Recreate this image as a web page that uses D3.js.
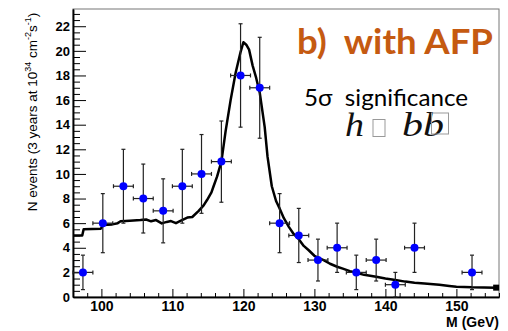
<!DOCTYPE html>
<html>
<head>
<meta charset="utf-8">
<script src="https://cdn.jsdelivr.net/npm/d3@7"></script>
<style>
  body { margin: 0; background: #fff; }
  svg { display: block; }
  .axis text { font: bold 13px "Liberation Sans", Arial, sans-serif; fill: #000; }
  .axis path, .axis line { stroke: #000; }
</style>
</head>
<body>
<div id="chart"></div>
<script>
// measured data points (bin centre in GeV, events, stat. error)
const massBins = [97.4, 100.2, 103.1, 105.9, 108.7, 111.4, 114.1, 116.9, 119.6, 122.3,
                  125.1, 127.8, 130.5, 133.2, 135.9, 138.7, 141.4, 144.1, 152.2];
const nEvents  = [2, 6, 9, 8, 7, 9, 10, 11, 18, 17, 6, 5, 3, 4, 2, 3, 1, 4, 2];
const nErrors  = [1.4, 2.4, 3.0, 2.8, 2.6, 3.0, 3.2, 3.3, 4.2, 4.1, 2.4, 2.2, 1.7, 2.0, 1.4, 1.7, 1.0, 2.0, 1.4];
const binHalf  = 1.4;

// expected signal + background curve
const curveM = [96.0, 97.3, 97.5, 99.9, 100.3, 101.5, 102.3, 102.7, 104.0, 105.5, 106.3, 107.0,
                107.7, 108.5, 109.2, 109.8, 110.5, 111.2, 112.1, 112.8, 113.7, 114.4, 114.9, 115.5,
                115.8, 116.3, 116.9, 117.5, 118.2, 118.9, 119.6, 120.0, 120.4, 120.8, 121.3, 121.8,
                122.3, 123.0, 123.4, 124.0, 124.6, 125.1, 125.7, 126.4, 127.1, 127.8, 128.5, 129.2,
                130.0, 130.5, 131.3, 132.2, 133.2, 134.0, 135.0, 135.9, 137.0, 138.7, 140.0, 141.4,
                142.8, 144.1, 145.5, 147.6, 149.0, 150.0, 152.2, 155.6];
const curveN = [5.0, 5.0, 5.5, 5.55, 5.85, 5.9, 6.0, 6.15, 6.2, 6.25, 6.3, 6.15,
                6.25, 5.98, 6.1, 6.17, 6.0, 6.2, 6.45, 6.5, 7.0, 7.45, 7.9, 8.5,
                9.0, 9.8, 11.0, 13.5, 16.0, 18.2, 19.9, 20.7, 20.5, 20.1, 18.8, 17.8,
                16.6, 13.8, 11.4, 9.0, 7.8, 7.2, 6.4, 5.7, 5.1, 4.7, 4.15, 3.8,
                3.35, 3.2, 3.0, 2.7, 2.46, 2.3, 2.1, 1.97, 1.8, 1.65, 1.5, 1.38,
                1.25, 1.16, 1.1, 1.0, 0.9, 0.84, 0.79, 0.76];

const xMajor = [100, 110, 120, 130, 140, 150];
const yMajor = [0, 2, 4, 6, 8, 10, 12, 14, 16, 18, 20, 22];

const W = 508, H = 331;
const margin = {top: 9, right: 9, bottom: 34, left: 73};
const width = W - margin.left - margin.right;
const height = H - margin.top - margin.bottom;

const x = d3.scaleLinear().domain([96, 156]).range([0, width]);
const y = d3.scaleLinear().domain([0, 23.4]).range([height, 0]);

const svg = d3.select('#chart').append('svg')
  .attr('width', W).attr('height', H);

const chart = svg.append('g')
  .attr('transform', 'translate(' + margin.left + ',' + margin.top + ')');

// frame
chart.append('rect')
  .attr('x', 0).attr('y', 0).attr('width', width).attr('height', height)
  .attr('fill', 'none').attr('stroke', '#777').attr('stroke-width', 1);

// minor ticks
const xMinor = d3.range(96, 157, 2).filter(v => !xMajor.includes(v));
const yMinor = d3.range(0, 23.01, 0.5).filter(v => !yMajor.includes(v));

chart.append('g').attr('class', 'axis')
  .attr('transform', 'translate(0,' + height + ')')
  .call(d3.axisBottom(x).tickValues(xMinor).tickSize(-4).tickSizeOuter(0).tickFormat(''));
chart.append('g').attr('class', 'axis')
  .call(d3.axisLeft(y).tickValues(yMinor).tickSize(-7).tickSizeOuter(0).tickFormat(''));

// major axes
chart.append('g').attr('class', 'axis x-axis')
  .attr('transform', 'translate(0,' + height + ')')
  .call(d3.axisBottom(x).tickValues(xMajor).tickSize(-8).tickSizeOuter(0).tickPadding(4))
  .call(g => g.selectAll('text').style('font-size', '14px'));
chart.append('g').attr('class', 'axis y-axis')
  .call(d3.axisLeft(y).tickValues(yMajor).tickSize(-13).tickSizeOuter(0).tickPadding(3));

chart.selectAll('.axis path.domain').attr('stroke-width', 1.5);

// curve
const line = d3.line().x((d, i) => x(curveM[i])).y(d => y(d));
chart.append('path')
  .datum(curveN)
  .attr('d', line)
  .attr('fill', 'none')
  .attr('stroke', '#000')
  .attr('stroke-width', 2.5)
  .attr('stroke-linejoin', 'round');
chart.append('rect')
  .attr('x', x(curveM[curveM.length - 1]) - 3)
  .attr('y', y(curveN[curveN.length - 1]) - 3)
  .attr('width', 6).attr('height', 6)
  .attr('fill', '#000');

// data points with error bars
const pts = chart.append('g').selectAll('g')
  .data(nEvents)
  .join('g');

const barColor = '#222';
pts.append('line')
  .attr('x1', (d, i) => x(massBins[i])).attr('x2', (d, i) => x(massBins[i]))
  .attr('y1', (d, i) => y(d - nErrors[i])).attr('y2', (d, i) => y(d + nErrors[i]))
  .attr('stroke', barColor).attr('stroke-width', 1.2);
pts.append('line')
  .attr('x1', (d, i) => x(massBins[i] - binHalf)).attr('x2', (d, i) => x(massBins[i] + binHalf))
  .attr('y1', d => y(d)).attr('y2', d => y(d))
  .attr('stroke', barColor).attr('stroke-width', 1.2);
[-1, 1].forEach(s => {
  pts.append('line')
    .attr('x1', (d, i) => x(massBins[i]) - 2).attr('x2', (d, i) => x(massBins[i]) + 2)
    .attr('y1', (d, i) => y(d + s * nErrors[i])).attr('y2', (d, i) => y(d + s * nErrors[i]))
    .attr('stroke', barColor).attr('stroke-width', 1.2);
  pts.append('line')
    .attr('x1', (d, i) => x(massBins[i] + s * binHalf)).attr('x2', (d, i) => x(massBins[i] + s * binHalf))
    .attr('y1', d => y(d) - 2).attr('y2', d => y(d) + 2)
    .attr('stroke', barColor).attr('stroke-width', 1.2);
});
pts.append('circle')
  .attr('cx', (d, i) => x(massBins[i]))
  .attr('cy', d => y(d))
  .attr('r', 4)
  .attr('fill', '#0000ff');

// axis titles
svg.append('text')
  .attr('x', 499).attr('y', 327)
  .attr('text-anchor', 'end')
  .style('font', 'bold 14px "Liberation Sans", Arial, sans-serif')
  .text('M (GeV)');

const yt = svg.append('text')
  .attr('transform', 'translate(37,112) rotate(-90)')
  .attr('text-anchor', 'middle')
  .style('font', '13.5px "Liberation Sans", Arial, sans-serif');
yt.append('tspan').text('N events (3 years at 10');
yt.append('tspan').attr('dy', -6).style('font-size', '9px').text('34');
yt.append('tspan').attr('dy', 6).text(' cm');
yt.append('tspan').attr('dy', -6).style('font-size', '9px').text('-2');
yt.append('tspan').attr('dy', 6).text('s');
yt.append('tspan').attr('dy', -6).style('font-size', '9px').text('-1');
yt.append('tspan').attr('dy', 6).text(')');

// annotations
svg.append('text')
  .attr('x', 297).attr('y', 54)
  .attr('textLength', 196).attr('lengthAdjust', 'spacingAndGlyphs')
  .style('font', 'bold 35px Lato, "Open Sans", sans-serif')
  .attr('fill', '#c55a11')
  .attr('xml:space', 'preserve')
  .text('b)  with AFP');

svg.append('text')
  .attr('x', 304).attr('y', 106)
  .attr('textLength', 164).attr('lengthAdjust', 'spacingAndGlyphs')
  .style('font', '24px Lato, "Open Sans", sans-serif')
  .attr('fill', '#000')
  .attr('xml:space', 'preserve')
  .text('5σ  significance');

const serif = 'italic 33px "Liberation Serif", "DejaVu Serif", serif';
svg.append('text').attr('x', 345).attr('y', 136)
  .attr('textLength', 19).attr('lengthAdjust', 'spacingAndGlyphs')
  .style('font', serif).attr('fill', '#111').text('h');
svg.append('text').attr('x', 402).attr('y', 136)
  .attr('textLength', 42).attr('lengthAdjust', 'spacingAndGlyphs')
  .style('font', serif).attr('fill', '#111').text('bb');
svg.append('rect').attr('x', 373).attr('y', 119.5).attr('width', 12).attr('height', 17)
  .attr('fill', 'none').attr('stroke', '#999').attr('stroke-width', 1);
svg.append('rect').attr('x', 431.5).attr('y', 113).attr('width', 17).attr('height', 21)
  .attr('fill', 'none').attr('stroke', '#999').attr('stroke-width', 1);
</script>
</body>
</html>
